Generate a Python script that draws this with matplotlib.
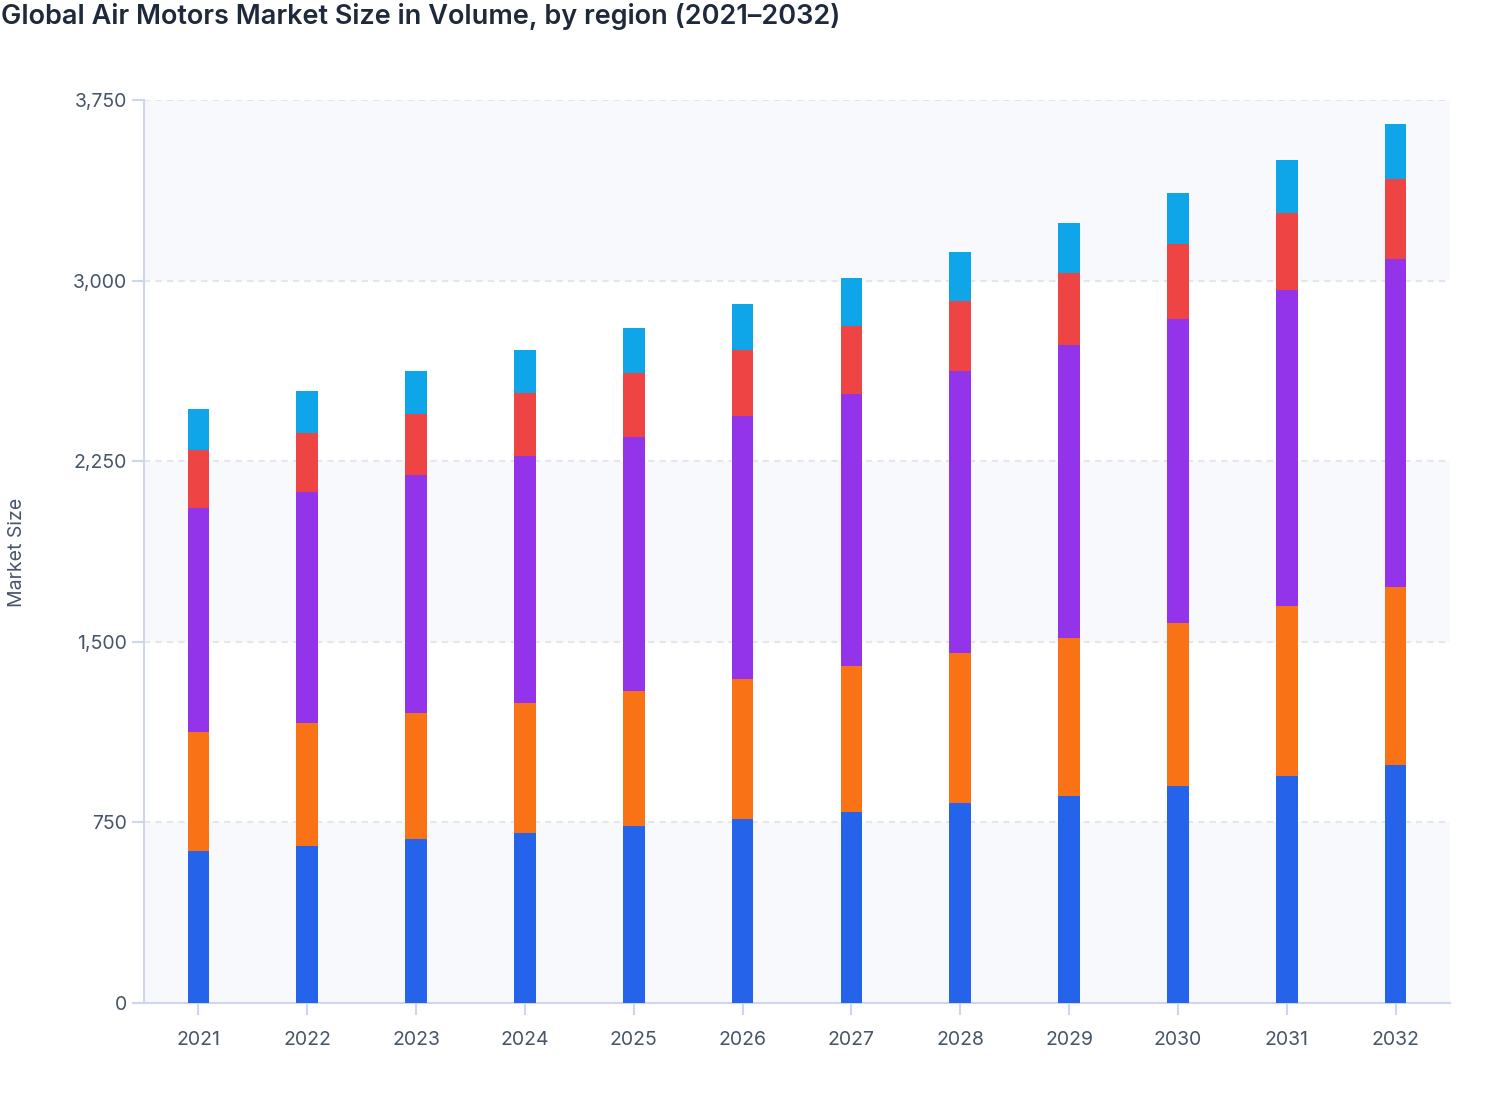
import numpy as np
import matplotlib
matplotlib.use("Agg")
import matplotlib.pyplot as plt

plt.rcParams['font.family'] = ['Inter', 'DejaVu Sans']

# market size per region, stacked bottom to top
years = ['2021', '2022', '2023', '2024', '2025', '2026',
         '2027', '2028', '2029', '2030', '2031', '2032']
region_blue = [631, 654, 679, 704, 734, 763, 795, 829, 860, 903, 944, 988]
region_orange = [493, 508, 524, 543, 560, 582, 606, 625, 655, 675, 704, 738]
region_purple = [933, 959, 991, 1025, 1055, 1092, 1129, 1171, 1216, 1264, 1311, 1363]
region_red = [240, 246, 252, 260, 268, 274, 283, 292, 299, 312, 321, 332]
region_cyan = [170, 175, 180, 181, 187, 192, 197, 203, 211, 211, 222, 230]

y_ticks = [0, 750, 1500, 2250, 3000, 3750]

series = [region_blue, region_orange, region_purple, region_red, region_cyan]
colors = ['#2563eb', '#f97316', '#9333ea', '#ef4444', '#0ea5e9']

fig = plt.figure(figsize=(15.08, 11.2), dpi=100)
ax = fig.add_axes([144 / 1508, 1 - 1003 / 1120, (1450 - 144) / 1508, (1003 - 100) / 1120])

x = np.arange(len(years))

# alternating background bands
for i in range(0, len(y_ticks) - 1, 2):
    ax.axhspan(y_ticks[i], y_ticks[i + 1], color='#f8f9fc', zorder=0, lw=0)

# dashed gridlines
for t in y_ticks[1:]:
    ax.axhline(t, color='#e4e6eb', lw=1.5, linestyle=(0, (3, 2.5)), zorder=1)

bottom = np.zeros(len(years))
for vals, c in zip(series, colors):
    ax.bar(x, vals, width=0.2, bottom=bottom, color=c, zorder=3, lw=0)
    bottom += np.array(vals)

ax.set_xlim(-0.5, len(years) - 0.5)
ax.set_ylim(0, 3750)
ax.set_xticks(x)
ax.set_xticklabels(years)
ax.set_yticks(y_ticks)
ax.set_yticklabels([f'{t:,}' for t in y_ticks])

for side in ['top', 'right']:
    ax.spines[side].set_visible(False)
for side in ['left', 'bottom']:
    ax.spines[side].set_color('#cdd5ef')
    ax.spines[side].set_linewidth(1.5)

ax.tick_params(axis='both', colors='#cdd5ef', width=1.5, length=8.5,
               labelcolor='#475569', labelsize=14)
ax.tick_params(axis='x', pad=12)
ax.tick_params(axis='y', pad=3.5)
ax.set_facecolor('white')

fig.text(17 / 1508, 1 - 552 / 1120, 'Market Size', rotation=90, ha='center', va='center',
         fontsize=14, color='#475569')
fig.text(0.0005, 1 - 17 / 1120, 'Global Air Motors Market Size in Volume, by region (2021–2032)',
         ha='left', va='center', fontsize=19.5, fontweight='semibold', color='#1e293b')

fig.savefig('out.png', dpi=100)
